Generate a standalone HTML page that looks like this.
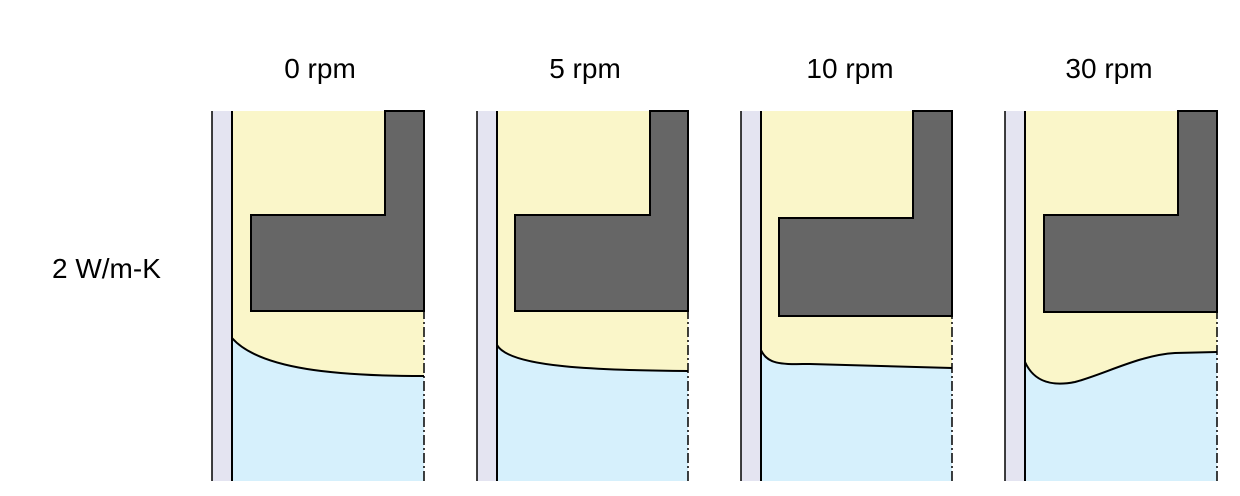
<!DOCTYPE html>
<html><head><meta charset="utf-8"><style>
html,body{margin:0;padding:0;background:#fff;}
svg{display:block;}
text{font-family:"Liberation Sans",Arial,sans-serif;font-size:28px;fill:#000;}
</style></head><body>
<svg width="1240" height="496" viewBox="0 0 1240 496">
<text x="320" y="78" text-anchor="middle">0 rpm</text>
<text x="585" y="78" text-anchor="middle">5 rpm</text>
<text x="850" y="78" text-anchor="middle">10 rpm</text>
<text x="1109" y="78" text-anchor="middle">30 rpm</text>
<text x="52" y="278">2 W/m-K</text>

<g>
<rect x="212" y="111" width="20" height="370" fill="#e4e4f1"/>
<rect x="232" y="111" width="192" height="370" fill="#faf6c9"/>
<path d="M232,338 C260,370 340,376 424,376 L424,481 L232,481 Z" fill="#d6f0fc"/>
<path d="M232,338 C260,370 340,376 424,376" fill="none" stroke="#000" stroke-width="2"/>
<path d="M385,111 L424,111 L424,311 L251,311 L251,215 L385,215 Z" fill="#666" stroke="#000" stroke-width="2"/>
<line x1="212" y1="111" x2="212" y2="481" stroke="#000" stroke-width="1.5"/>
<line x1="232" y1="111" x2="232" y2="481" stroke="#000" stroke-width="2"/>
<line x1="424" y1="111" x2="424" y2="481" stroke="#000" stroke-width="1.5" stroke-dasharray="10,3,2,3"/>
</g>

<g>
<rect x="477" y="111" width="20" height="370" fill="#e4e4f1"/>
<rect x="497" y="111" width="191" height="370" fill="#faf6c9"/>
<path d="M497,345 C510,368 600,370 688,371 L688,481 L497,481 Z" fill="#d6f0fc"/>
<path d="M497,345 C510,368 600,370 688,371" fill="none" stroke="#000" stroke-width="2"/>
<path d="M650,111 L688,111 L688,311 L515,311 L515,215 L650,215 Z" fill="#666" stroke="#000" stroke-width="2"/>
<line x1="477" y1="111" x2="477" y2="481" stroke="#000" stroke-width="1.5"/>
<line x1="497" y1="111" x2="497" y2="481" stroke="#000" stroke-width="2"/>
<line x1="688" y1="111" x2="688" y2="481" stroke="#000" stroke-width="1.5" stroke-dasharray="10,3,2,3"/>
</g>

<g>
<rect x="741" y="111" width="20" height="370" fill="#e4e4f1"/>
<rect x="761" y="111" width="191" height="370" fill="#faf6c9"/>
<path d="M761,350 C768,366 785,364 810,364 L952,368 L952,481 L761,481 Z" fill="#d6f0fc"/>
<path d="M761,350 C768,366 785,364 810,364 L952,368" fill="none" stroke="#000" stroke-width="2"/>
<path d="M913,111 L952,111 L952,316 L779,316 L779,218 L913,218 Z" fill="#666" stroke="#000" stroke-width="2"/>
<line x1="741" y1="111" x2="741" y2="481" stroke="#000" stroke-width="1.5"/>
<line x1="761" y1="111" x2="761" y2="481" stroke="#000" stroke-width="2"/>
<line x1="952" y1="111" x2="952" y2="481" stroke="#000" stroke-width="1.5" stroke-dasharray="10,3,2,3"/>
</g>

<g>
<rect x="1005" y="111" width="20" height="370" fill="#e4e4f1"/>
<rect x="1025" y="111" width="192" height="370" fill="#faf6c9"/>
<path d="M1025,362 C1035,384 1055,386 1075,382 C1105,374 1140,355 1175,353 L1217,352 L1217,481 L1025,481 Z" fill="#d6f0fc"/>
<path d="M1025,362 C1035,384 1055,386 1075,382 C1105,374 1140,355 1175,353 L1217,352" fill="none" stroke="#000" stroke-width="2"/>
<path d="M1178,111 L1217,111 L1217,312 L1044,312 L1044,215 L1178,215 Z" fill="#666" stroke="#000" stroke-width="2"/>
<line x1="1005" y1="111" x2="1005" y2="481" stroke="#000" stroke-width="1.5"/>
<line x1="1025" y1="111" x2="1025" y2="481" stroke="#000" stroke-width="2"/>
<line x1="1217" y1="111" x2="1217" y2="481" stroke="#000" stroke-width="1.5" stroke-dasharray="10,3,2,3"/>
</g>
</svg>
</body></html>
